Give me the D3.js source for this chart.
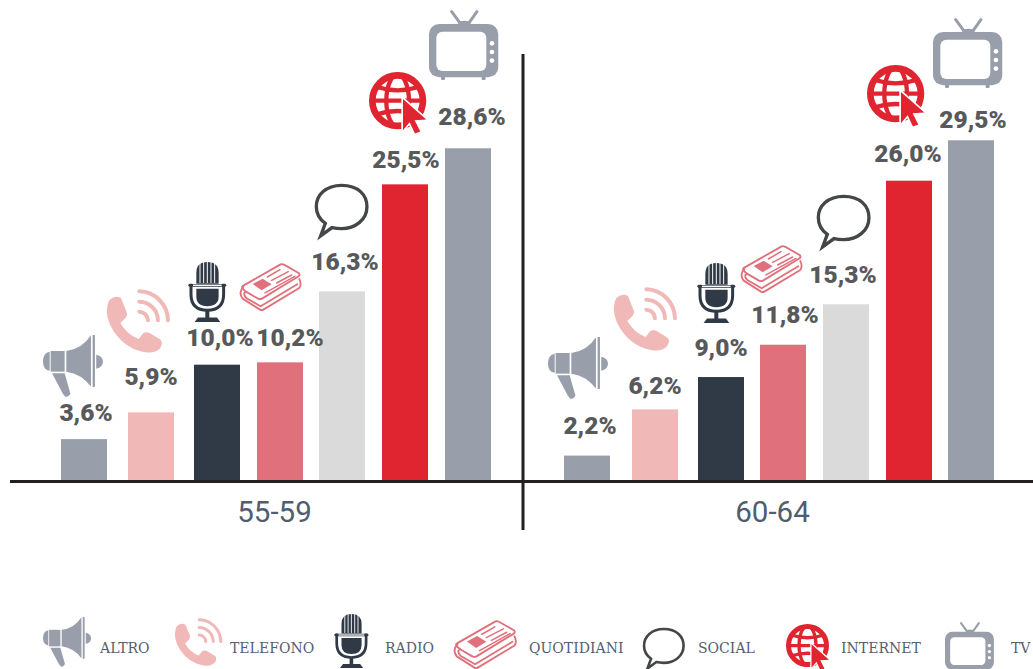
<!DOCTYPE html>
<html><head><meta charset="utf-8">
<script src="https://cdn.jsdelivr.net/npm/d3@7"></script>
<style>html,body{margin:0;padding:0;background:#fff;overflow:hidden}svg{display:block}</style>
</head><body><div id="c"></div>
<script>
const categories=["ALTRO","TELEFONO","RADIO","QUOTIDIANI","SOCIAL","INTERNET","TV"];
const ageGroups=["55-59","60-64"];
const values5559=[3.6,5.9,10.0,10.2,16.3,25.5,28.6];
const values6064=[2.2,6.2,9.0,11.8,15.3,26.0,29.5];
const colors=["#989fab","#f1b8b8","#303a47","#e0707b","#dadada","#e02430","#989fab"];

const W=1033,H=669,base=481;
const panels=[
 {age:ageGroups[0],values:values5559,
  x:d3.scaleOrdinal().domain(categories).range([61,128,194,257,319,382,445]),
  y:d3.scaleLinear().domain([0,30]).range([base,132]),
  lab:[[86,18],[151,27],[220,19],[290,16],[345,21],[406,16],[472,23]],
  icons:[[43,335,.333],[107,289,.333],[188,262,.333],[239,263,.333],[315,184,.333],[369,72,.333],[429,10,.333]]},
 {age:ageGroups[1],values:values6064,
  x:d3.scaleOrdinal().domain(categories).range([564,632,698,760,823,886,948]),
  y:d3.scaleLinear().domain([0,30]).range([base,134.5]),
  lab:[[590,22],[655,15],[721,21],[785,22],[843,21],[908,19],[973,12]],
  icons:[[548,337,.333],[614,287,.333],[697,263,.333],[740,245,.333],[817,195,.333],[867,65,.333],[933,18,.333]]}
];
const legendIcons=[[43,617,.267],[175,618,.25],[334,614,.3],[453,620,.34],[643,628,.26],[786,624,.25],[945,622,.235]];
const legendTextX=[100,230,385,529,698,841,1011];
const barW=46;

const svg=d3.select("#c").append("svg").attr("width",W).attr("height",H);
const iconDefs=[
 {box:[38,255],draw(g,c){
  g.append("path").attr("fill",c).attr("d","M58,305 L58,362 Q38,360 38,335 Q38,308 58,305Z");
  g.append("rect").attr("fill",c).attr("x",61).attr("y",303).attr("width",42).attr("height",62);
  g.append("path").attr("fill",c).attr("d","M108,303 Q155,298 182,256 L182,410 Q155,372 108,365Z");
  g.append("rect").attr("fill",c).attr("x",187).attr("y",255).attr("width",7).attr("height",156);
  g.append("path").attr("fill",c).attr("d","M198,314 Q218,318 218,335 Q218,352 198,356Z");
  g.append("path").attr("fill",c).attr("d","M65,370 L103,370 L120,430 Q118,440 106,441 L98,432Z");
 }},
 {box:[230,118],draw(g,c){
  g.append("path").attr("fill",c).attr("d","M238,150 Q255,136 272,145 L290,190 Q292,200 280,210 L270,220 Q290,255 325,268 L338,252 Q345,245 358,250 L390,270 Q400,280 390,295 Q375,312 345,308 Q285,298 250,245 Q222,200 232,165 Q234,155 238,150Z");
  g.append("g").attr("fill","none").attr("stroke",c).attr("stroke-width",12).attr("stroke-linecap","round")
   .selectAll("path").data(["M327,125 A88,88 0 0 1 413,212","M327,156 A57,57 0 0 1 383,212","M327,186 A27,27 0 0 1 353,212"])
   .join("path").attr("d",d=>d);
 }},
 {box:[475,35],draw(g,c){
  g.append("path").attr("fill",c).attr("d","M500,100 L500,68 Q500,35 533,35 Q567,35 567,68 L567,100Z");
  g.append("g").attr("stroke","#fff").attr("stroke-width",3).selectAll("line").data([511,522,533,544,555])
   .join("line").attr("x1",d=>d).attr("x2",d=>d).attr("y1",35).attr("y2",98);
  g.append("path").attr("fill",c).attr("d","M500,115 L567,115 L567,138 Q567,168 533,168 Q500,168 500,138Z");
  g.append("path").attr("fill","none").attr("stroke",c).attr("stroke-width",9).attr("d","M484,100 L484,132 Q484,180 533,180 Q582,180 582,132 L582,100");
  g.append("rect").attr("fill",c).attr("x",476).attr("y",101).attr("width",114).attr("height",8).attr("rx",4);
  g.append("rect").attr("fill","#fff").attr("x",490).attr("y",103).attr("width",86).attr("height",4);
  g.append("rect").attr("fill",c).attr("x",527).attr("y",182).attr("width",12).attr("height",24);
  g.append("path").attr("fill",c).attr("d","M505,202 L562,202 L572,215 L495,215Z");
 }},
 {box:[627,40],draw(g,c){
  const s=g.append("g").attr("fill","none").attr("stroke",c).attr("stroke-width",5.5).attr("stroke-linejoin","round").attr("stroke-linecap","round");
  s.append("path").attr("d","M640,108 L752,44 Q757,42 762,45 L806,70 Q811,75 806,80 L696,147 Q690,150 684,147 L648,126 Q630,112 640,108Z");
  s.append("path").attr("d","M640,112 Q624,128 638,147 L690,180 Q695,183 700,180 L808,115 Q816,105 808,88");
  s.append("path").attr("d","M648,126 Q636,132 650,146 L692,170 L802,104");
  s.append("path").attr("d","M712,82 L750,60 M725,92 L775,66 M740,100 L785,76 M705,130 L795,80").attr("stroke-width",4.5);
  g.append("path").attr("fill",c).attr("d","M668,103 L698,87 L725,104 L695,122Z");
 }},
 {box:[45,552],draw(g,c){
  g.append("path").attr("fill","none").attr("stroke",c).attr("stroke-width",10).attr("stroke-linejoin","miter")
   .attr("d","M125,556 C175,556 201,585 201,620 C201,660 165,686 125,686 Q110,686 96,683 L62,708 L76,670 C58,657 49,640 49,620 C49,585 78,556 125,556Z");
 }},
 {box:[208,217],draw(g,c){
  const s=g.append("g").attr("fill","none").attr("stroke",c);
  s.append("circle").attr("cx",294).attr("cy",303).attr("r",76).attr("stroke-width",20);
  s.append("ellipse").attr("cx",294).attr("cy",303).attr("rx",34).attr("ry",78).attr("stroke-width",13);
  s.append("path").attr("d","M232,262 Q294,282 356,262 M215,303 L373,303 M232,344 Q294,324 356,344").attr("stroke-width",13);
  g.append("path").attr("fill",c).attr("stroke","#fff").attr("stroke-width",10).attr("paint-order","stroke")
   .attr("d","M310,298 L380,360 L345,362 L362,396 L346,402 L330,368 L310,392Z");
 }},
 {box:[388,30],draw(g,c){
  g.append("path").attr("fill","none").attr("stroke",c).attr("stroke-width",9).attr("stroke-linecap","round").attr("d","M456,35 L482,70 M532,35 L507,70");
  g.append("rect").attr("fill",c).attr("x",388).attr("y",72).attr("width",208).attr("height",160).attr("rx",30);
  g.append("ellipse").attr("fill",c).attr("cx",494).attr("cy",70).attr("rx",18).attr("ry",8);
  g.append("rect").attr("fill","#fff").attr("x",410).attr("y",95).attr("width",150).attr("height",118).attr("rx",18);
  g.append("g").attr("fill","#fff").selectAll("circle").data([130,156,182]).join("circle").attr("cx",577).attr("cy",d=>d).attr("r",7);
  g.append("g").attr("fill",c).selectAll("rect").data([424,546]).join("rect").attr("x",d=>d).attr("y",228).attr("width",12).attr("height",12).attr("rx",3);
 }}
];
const iconColor=i=>i===4?"#444647":colors[i];
function placeIcon(i,p){
 const def=iconDefs[i];
 const g=svg.append("g").attr("transform",`translate(${p[0]},${p[1]}) scale(${p[2]}) translate(${-def.box[0]},${-def.box[1]})`);
 def.draw(g,iconColor(i));
}

panels.forEach(p=>{
 const g=svg.append("g");
 g.selectAll("rect").data(p.values).join("rect")
  .attr("x",(d,i)=>p.x(categories[i])).attr("width",barW)
  .attr("y",d=>p.y(d)).attr("height",d=>base-p.y(d))
  .attr("fill",(d,i)=>colors[i]);
 g.selectAll("text").data(p.values).join("text")
  .attr("x",(d,i)=>p.lab[i][0]).attr("y",(d,i)=>p.y(d)-p.lab[i][1])
  .attr("text-anchor","middle").attr("font-family","Roboto").attr("font-weight",900)
  .attr("font-size",24.5).attr("fill","#58595b")
  .text(d=>d3.format(".1f")(d).replace(".",",")+"%");
 p.icons.forEach((ic,i)=>placeIcon(i,ic));
});

const xAge=d3.scalePoint().domain(ageGroups).range([274,772]);
const axis=svg.append("g").attr("transform",`translate(0,${base})`)
 .call(d3.axisBottom(xAge).tickSize(0).tickPadding(20));
axis.select(".domain").remove();
axis.selectAll("text").attr("font-family","Roboto").attr("font-size",29.5).attr("fill","#4f5d6e");
svg.append("line").attr("x1",10).attr("x2",W).attr("y1",base+0.5).attr("y2",base+0.5).attr("stroke","#231f20").attr("stroke-width",3);
svg.append("line").attr("x1",523).attr("x2",523).attr("y1",54).attr("y2",530).attr("stroke","#231f20").attr("stroke-width",3);

categories.forEach((c,i)=>{
 placeIcon(i,legendIcons[i]);
 svg.append("text").attr("x",legendTextX[i]).attr("y",653)
  .attr("font-family","'DejaVu Serif Condensed','DejaVu Serif'").attr("font-size",15.6).attr("fill","#55606f").text(c);
});
</script></body></html>
